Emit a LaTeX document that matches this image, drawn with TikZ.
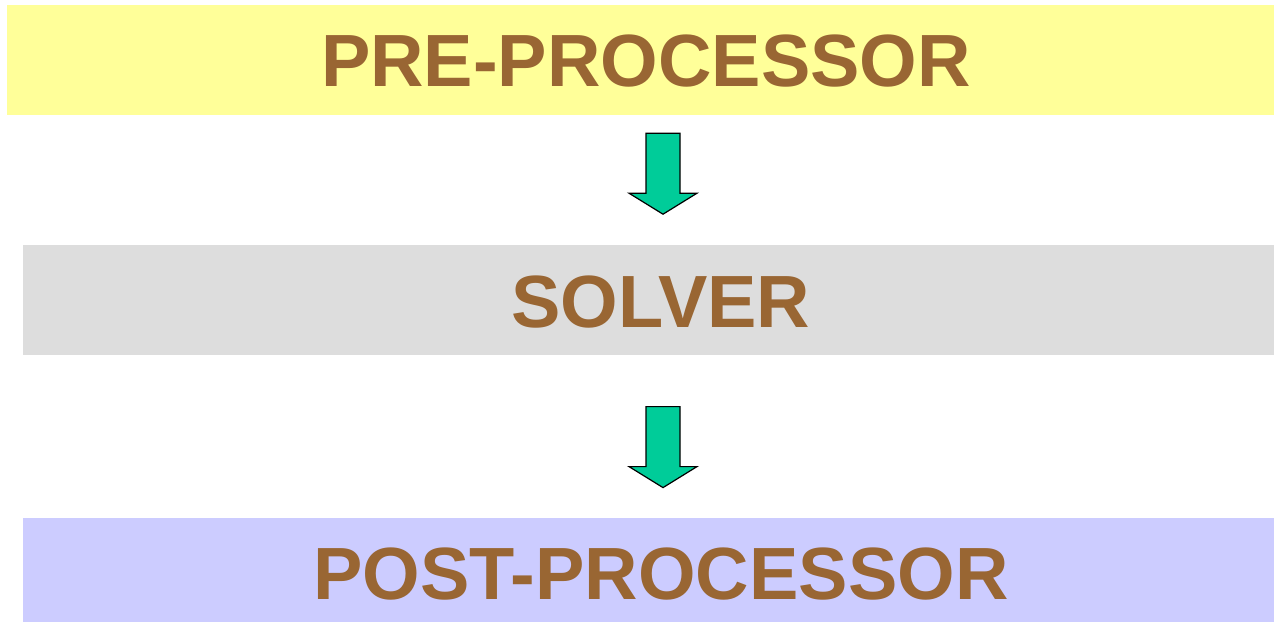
\documentclass[tikz,border=0pt]{standalone}
\usepackage{fontspec}
\setmainfont{Liberation Sans}
\usepackage{tikz}
\usetikzlibrary{positioning,calc}
\usepackage{xcolor}
\definecolor{prefill}{HTML}{FFFF99}
\definecolor{solverfill}{HTML}{DDDDDD}
\definecolor{postfill}{HTML}{CCCCFF}
\definecolor{labelbrown}{HTML}{996633}
\definecolor{arrowgreen}{HTML}{00CC99}

\begin{document}
\begin{tikzpicture}[
  stage/.style={rectangle,draw=none,inner sep=0pt,minimum height=110pt},
  title/.style={text=labelbrown,inner sep=0pt,font=\fontsize{74}{80}\selectfont\bfseries},
  blockarrow/.style={draw=black,line width=1.2pt,fill=arrowgreen,line join=miter},
]
  \useasboundingbox (0,0) rectangle (1274pt,-621pt);

  \node[stage,fill=prefill,minimum width=1267pt] (pre) at (640.5pt,-60pt) {};
  \node[stage,fill=solverfill,minimum width=1251pt] (solver)
    [below left=130pt and 0pt of pre.south east] {};
  \node[stage,fill=postfill,minimum width=1251pt,minimum height=104pt] (post)
    [below=162pt of solver] {};

  \node[title] (pretext) at ([xshift=5.5pt,yshift=-1pt]pre.center) {PRE-PROCESSOR};
  \node[title] (solvertext) at ([xshift=12.5pt,yshift=-2pt]solver.center) {SOLVER};
  \node[title] (posttext) at ([xshift=12.5pt,yshift=-4pt]post.center) {POST-PROCESSOR};

  \coordinate (a1) at ([xshift=22.5pt,yshift=-18pt]pre.south);
  \coordinate (a2) at ([xshift=14.5pt,yshift=-51pt]solver.south);

  \foreach \a in {a1,a2}
    \draw[blockarrow] (\a) +(-17pt,0) -- +(-17pt,-60pt) -- +(-34pt,-60pt)
      -- +(0,-81pt) -- +(34pt,-60pt) -- +(17pt,-60pt) -- +(17pt,0) -- cycle;
\end{tikzpicture}
\end{document}
